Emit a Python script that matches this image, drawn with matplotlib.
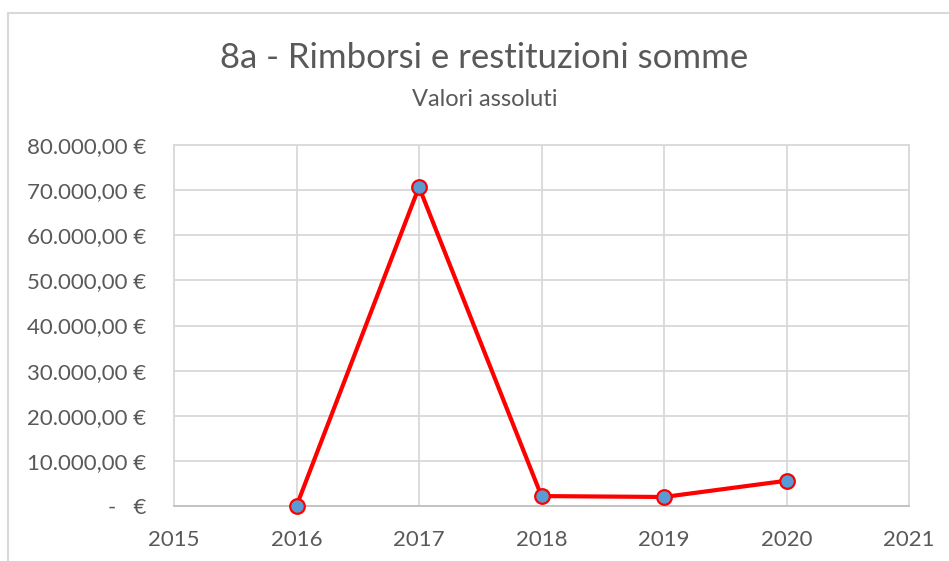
import matplotlib
matplotlib.use('Agg')
import matplotlib.pyplot as plt
from matplotlib.patches import Rectangle
from matplotlib.ticker import FuncFormatter, MultipleLocator

plt.rcParams['font.family'] = ['Lato', 'DejaVu Sans']

anni = [2016, 2017, 2018, 2019, 2020]
importi = [0, 70700, 2200, 2000, 5600]

grigio = '#595959'


def euro(v, pos):
    if v == 0:
        return '-   €'
    s = f'{v:,.2f}'.replace(',', 'X').replace('.', ',').replace('X', '.')
    return s + ' €'


fig = plt.figure(figsize=(9.49, 5.61), dpi=100)
fig.patches.append(Rectangle((8 / 949, -0.1), 1.2, 1.1 - 13 / 561,
                             transform=fig.transFigure, fill=False,
                             edgecolor='#D9D9D9', linewidth=1.5))

ax = fig.add_axes([174 / 949, 1 - 506 / 561, 735 / 949, 361 / 561])
ax.plot(anni, importi, color='red', linewidth=3, marker='o',
        markersize=10.5, markerfacecolor='#5B9BD5', markeredgecolor='red',
        markeredgewidth=1.6, zorder=3, clip_on=False)

ax.set_xlim(2015, 2021)
ax.set_ylim(0, 80000)
ax.xaxis.set_major_locator(MultipleLocator(1))
ax.yaxis.set_major_locator(MultipleLocator(10000))
ax.yaxis.set_major_formatter(FuncFormatter(euro))
ax.grid(True, color='#D9D9D9', linewidth=1.3)
ax.set_axisbelow(True)
for side in ['top', 'right', 'left']:
    ax.spines[side].set_color('#D9D9D9')
    ax.spines[side].set_linewidth(1.3)
ax.spines['bottom'].set_color('#BFBFBF')
ax.spines['bottom'].set_linewidth(1.3)
ax.tick_params(length=0, labelsize=16, colors=grigio)
ax.tick_params(axis='y', pad=20)
ax.tick_params(axis='x', pad=17)

fig.text(484 / 949, 1 - 58 / 561, '8a - Rimborsi e restituzioni somme',
         ha='center', va='center', fontsize=25, color=grigio)
fig.text(485 / 949, 1 - 99 / 561, 'Valori assoluti',
         ha='center', va='center', fontsize=17, color=grigio)

fig.savefig('out.png', dpi=100)
